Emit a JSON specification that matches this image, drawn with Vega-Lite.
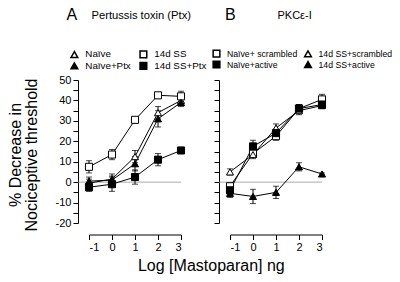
{
  "$schema": "https://vega.github.io/schema/vega-lite/v6.json",
  "padding": {"left": 7, "top": 6, "right": 0, "bottom": 0},
  "datasets": {
    "zero": [{"x": -1.47, "x2": 3, "y": 0}],
    "A": [
      {"s": "Naïve", "x": -1, "y": -0.5, "e": 2},
      {"s": "Naïve", "x": 0, "y": 1.5, "e": 2.5},
      {"s": "Naïve", "x": 1, "y": 12.5, "e": 3},
      {"s": "Naïve", "x": 2, "y": 34, "e": 3},
      {"s": "Naïve", "x": 3, "y": 40, "e": 2},
      {"s": "14d SS", "x": -1, "y": 7.5, "e": 3},
      {"s": "14d SS", "x": 0, "y": 13.5, "e": 2.5},
      {"s": "14d SS", "x": 1, "y": 30.5, "e": 1},
      {"s": "14d SS", "x": 2, "y": 42.5, "e": 1},
      {"s": "14d SS", "x": 3, "y": 42, "e": 2.5},
      {"s": "Naïve+Ptx", "x": -1, "y": 0.5, "e": 2},
      {"s": "Naïve+Ptx", "x": 0, "y": 1, "e": 2},
      {"s": "Naïve+Ptx", "x": 1, "y": 9, "e": 3.5},
      {"s": "Naïve+Ptx", "x": 2, "y": 31, "e": 4},
      {"s": "Naïve+Ptx", "x": 3, "y": 39, "e": 2},
      {"s": "14d SS+Ptx", "x": -1, "y": -2.5, "e": 2},
      {"s": "14d SS+Ptx", "x": 0, "y": -1, "e": 3.5},
      {"s": "14d SS+Ptx", "x": 1, "y": 2.5, "e": 3.5},
      {"s": "14d SS+Ptx", "x": 2, "y": 11, "e": 3},
      {"s": "14d SS+Ptx", "x": 3, "y": 15.5, "e": 1.5}
    ],
    "B": [
      {"s": "Naïve+ scrambled", "x": -1, "y": -2, "e": 1.5},
      {"s": "Naïve+ scrambled", "x": 0, "y": 14, "e": 1.5},
      {"s": "Naïve+ scrambled", "x": 1, "y": 22.5, "e": 2},
      {"s": "Naïve+ scrambled", "x": 2, "y": 36, "e": 2},
      {"s": "Naïve+ scrambled", "x": 3, "y": 40.5, "e": 2.5},
      {"s": "14d SS+scrambled", "x": -1, "y": 5, "e": 1.5},
      {"s": "14d SS+scrambled", "x": 0, "y": 13.5, "e": 2},
      {"s": "14d SS+scrambled", "x": 1, "y": 26.5, "e": 2},
      {"s": "14d SS+scrambled", "x": 2, "y": 35, "e": 2},
      {"s": "14d SS+scrambled", "x": 3, "y": 37.5, "e": 1.5},
      {"s": "Naïve+active", "x": -1, "y": -4, "e": 1.5},
      {"s": "Naïve+active", "x": 0, "y": 17.5, "e": 3},
      {"s": "Naïve+active", "x": 1, "y": 24, "e": 2},
      {"s": "Naïve+active", "x": 2, "y": 36, "e": 2},
      {"s": "Naïve+active", "x": 3, "y": 38, "e": 2},
      {"s": "14d SS+active", "x": -1, "y": -5.5, "e": 2},
      {"s": "14d SS+active", "x": 0, "y": -7, "e": 3.5},
      {"s": "14d SS+active", "x": 1, "y": -5, "e": 3},
      {"s": "14d SS+active", "x": 2, "y": 7.5, "e": 2},
      {"s": "14d SS+active", "x": 3, "y": 4, "e": 0.5}
    ]
  },
  "spacing": 5,
  "resolve": {
    "scale": {"shape": "independent", "fill": "independent"},
    "legend": {"shape": "independent", "fill": "independent"}
  },
  "title": {"text": "Log [Mastoparan] ng", "orient": "bottom", "anchor": "middle", "fontSize": 16, "fontWeight": "normal", "offset": 5, "dx": 11, "color": "black"},
  "hconcat": [
    {
      "width": 92,
      "height": 143,
      "resolve": {"axis": {"x": "independent"}},
      "encoding": {
        "y": {"field": "y", "type": "quantitative", "scale": {"domain": [-20, 50]},
          "axis": {"values": [-20, -15, -10, -5, 0, 5, 10, 15, 20, 25, 30, 35, 40, 45, 50], "labelExpr": "datum.value % 10 === 0 ? replace(datum.label, '−', '-') : ''", "offset": 11, "tickSize": 5, "labelPadding": 2, "labelFontSize": 11, "title": ["% Decrease in", "Nociceptive threshold"], "titleFontSize": 16, "titleLineHeight": 16, "titleBaseline": "alphabetic", "titleAlign": "center", "titleX": -57.3, "titleY": 74.5}}
      },
      "layer": [
        {
          "data": {"name": "zero"},
          "mark": {"type": "rule", "color": "#aaaaaa", "strokeWidth": 1},
          "encoding": {
            "x": {"field": "x", "type": "quantitative", "scale": {"domain": [-1, 3]},
              "axis": {"orient": "top", "domain": false, "ticks": false, "labels": false, "title": "A", "titleFontSize": 16, "titleX": -23, "titleY": -60.5, "titleAlign": "left", "titleBaseline": "alphabetic", "titleAngle": 0}},
            "x2": {"field": "x2"}
          }
        },
        {
          "data": {"name": "A"},
          "mark": {"type": "errorbar", "ticks": {"size": 6, "color": "black"}, "color": "black", "thickness": 1},
          "encoding": {
            "x": {"field": "x", "type": "quantitative", "axis": null},
            "yError": {"field": "e"},
            "detail": {"field": "s"}
          }
        },
        {
          "data": {"name": "A"},
          "mark": {"type": "line", "color": "black", "strokeWidth": 1},
          "encoding": {
            "x": {"field": "x", "type": "quantitative",
              "axis": {"orient": "top", "domain": false, "ticks": false, "labels": false, "title": "Pertussis toxin (Ptx)", "titleFontSize": 11.2, "titleX": 2, "titleY": -62, "titleAlign": "left", "titleBaseline": "alphabetic", "titleAngle": 0}},
            "detail": {"field": "s"}
          }
        },
        {
          "data": {"name": "A"},
          "mark": {"type": "point", "filled": true, "stroke": "black", "strokeWidth": 1, "size": 50, "opacity": 1},
          "encoding": {
            "x": {"field": "x", "type": "quantitative",
              "axis": {"orient": "bottom", "values": [-1, 0, 1, 2, 3], "labelExpr": "replace(datum.label, '−', '-')", "offset": 11.5, "tickSize": 5, "labelPadding": 2, "labelFontSize": 11, "title": null}},
            "shape": {"field": "s", "type": "nominal",
              "scale": {"domain": ["Naïve", "Naïve+Ptx", "14d SS", "14d SS+Ptx"], "range": ["triangle-up", "triangle-up", "square", "square"]},
              "legend": {"title": null, "orient": "none", "legendX": -19.5, "legendY": -31, "columns": 2, "columnPadding": 5, "rowPadding": -5, "labelOffset": 6, "labelFontSize": 9.8, "encode": {"symbols": {"update": {"stroke": {"value": "black"}, "strokeWidth": {"value": 1}}}}}},
            "fill": {"field": "s", "type": "nominal",
              "scale": {"domain": ["Naïve", "Naïve+Ptx", "14d SS", "14d SS+Ptx"], "range": ["white", "black", "white", "black"]},
              "legend": {"title": null, "orient": "none", "legendX": -19.5, "legendY": -31, "columns": 2, "columnPadding": 5, "rowPadding": -5, "labelOffset": 6, "labelFontSize": 9.8, "encode": {"symbols": {"update": {"stroke": {"value": "black"}, "strokeWidth": {"value": 1}}}}}}
          }
        }
      ]
    },
    {
      "width": 92,
      "height": 143,
      "resolve": {"axis": {"x": "independent"}},
      "encoding": {
        "y": {"field": "y", "type": "quantitative", "scale": {"domain": [-20, 50]},
          "axis": {"values": [-20, -15, -10, -5, 0, 5, 10, 15, 20, 25, 30, 35, 40, 45, 50], "labels": false, "offset": 11, "tickSize": 5, "title": null}}
      },
      "layer": [
        {
          "data": {"name": "zero"},
          "mark": {"type": "rule", "color": "#aaaaaa", "strokeWidth": 1},
          "encoding": {
            "x": {"field": "x", "type": "quantitative", "scale": {"domain": [-1, 3]},
              "axis": {"orient": "top", "domain": false, "ticks": false, "labels": false, "title": "B", "titleFontSize": 16, "titleX": -5.5, "titleY": -60.5, "titleAlign": "left", "titleBaseline": "alphabetic", "titleAngle": 0}},
            "x2": {"field": "x2"}
          }
        },
        {
          "data": {"name": "B"},
          "mark": {"type": "errorbar", "ticks": {"size": 6, "color": "black"}, "color": "black", "thickness": 1},
          "encoding": {
            "x": {"field": "x", "type": "quantitative", "axis": null},
            "yError": {"field": "e"},
            "detail": {"field": "s"}
          }
        },
        {
          "data": {"name": "B"},
          "mark": {"type": "line", "color": "black", "strokeWidth": 1},
          "encoding": {
            "x": {"field": "x", "type": "quantitative",
              "axis": {"orient": "top", "domain": false, "ticks": false, "labels": false, "title": "PKCε-I", "titleFontSize": 11, "titleX": 47, "titleY": -62, "titleAlign": "left", "titleBaseline": "alphabetic", "titleAngle": 0}},
            "detail": {"field": "s"}
          }
        },
        {
          "data": {"name": "B"},
          "mark": {"type": "point", "filled": true, "stroke": "black", "strokeWidth": 1, "size": 50, "opacity": 1},
          "encoding": {
            "x": {"field": "x", "type": "quantitative",
              "axis": {"orient": "bottom", "values": [-1, 0, 1, 2, 3], "labelExpr": "replace(datum.label, '−', '-')", "offset": 11.5, "tickSize": 5, "labelPadding": 2, "labelFontSize": 11, "title": null}},
            "shape": {"field": "s", "type": "nominal",
              "scale": {"domain": ["Naïve+ scrambled", "Naïve+active", "14d SS+scrambled", "14d SS+active"], "range": ["square", "square", "triangle-up", "triangle-up"]},
              "legend": {"title": null, "orient": "none", "legendX": -18, "legendY": -31, "columns": 2, "columnPadding": 3.5, "rowPadding": -5, "labelOffset": 6, "labelFontSize": 8.7, "encode": {"symbols": {"update": {"stroke": {"value": "black"}, "strokeWidth": {"value": 1}}}}}},
            "fill": {"field": "s", "type": "nominal",
              "scale": {"domain": ["Naïve+ scrambled", "Naïve+active", "14d SS+scrambled", "14d SS+active"], "range": ["white", "black", "white", "black"]},
              "legend": {"title": null, "orient": "none", "legendX": -18, "legendY": -31, "columns": 2, "columnPadding": 3.5, "rowPadding": -5, "labelOffset": 6, "labelFontSize": 8.7, "encode": {"symbols": {"update": {"stroke": {"value": "black"}, "strokeWidth": {"value": 1}}}}}}
          }
        }
      ]
    }
  ],
  "config": {
    "font": "Liberation Sans",
    "view": {"stroke": null},
    "axis": {"grid": false, "domainColor": "black", "tickColor": "black", "labelColor": "black", "titleColor": "black", "titleFontWeight": "normal", "domainWidth": 1, "tickWidth": 1},
    "legend": {"labelColor": "black", "gridAlign": "each", "rowPadding": -5, "symbolSize": 45, "labelOffset": 6, "padding": 0}
  }
}
